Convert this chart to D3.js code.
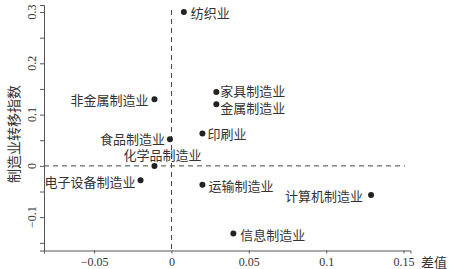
<!DOCTYPE html>
<html>
<head>
<meta charset="utf-8">
<script src="https://cdn.jsdelivr.net/npm/d3@7"></script>
<style>
  body { margin: 0; background: #fff; }
  svg { display: block; }
</style>
</head>
<body>
<div id="chart"></div>
<script>
// Scatter - 制造业转移指数 vs 差值

const industries = ["纺织业", "非金属制造业", "家具制造业", "金属制造业", "印刷业", "食品制造业",
                    "化学品制造业", "电子设备制造业", "运输制造业", "计算机制造业", "信息制造业"];
const diffValues = [0.008, -0.011, 0.029, 0.029, 0.020, -0.001, -0.011, -0.020, 0.020, 0.129, 0.040];
const shiftIndex = [0.300, 0.130, 0.144, 0.120, 0.063, 0.052, 0.000, -0.028, -0.037, -0.057, -0.132];
const xTicks = [-0.05, 0, 0.05, 0.1, 0.15];
const yTicks = [-0.15, -0.1, -0.05, 0, 0.05, 0.1, 0.15, 0.2, 0.25, 0.3];
const yLabelTicks = [-0.1, 0, 0.1, 0.2, 0.3];

// where each label sits relative to its dot
const labelPlace = {
    "纺织业": {anchor: "start", dx: 7, dy: 0},
    "非金属制造业": {anchor: "end", dx: -6, dy: 0},
    "家具制造业": {anchor: "start", dx: 4, dy: -2},
    "金属制造业": {anchor: "start", dx: 4, dy: 3},
    "印刷业": {anchor: "start", dx: 5, dy: 0},
    "食品制造业": {anchor: "end", dx: -5, dy: -1},
    "化学品制造业": {anchor: "middle", dx: 8, dy: -11},
    "电子设备制造业": {anchor: "end", dx: -5, dy: 1},
    "运输制造业": {anchor: "start", dx: 6, dy: 1},
    "计算机制造业": {anchor: "end", dx: -8, dy: 0},
    "信息制造业": {anchor: "start", dx: 7, dy: 1}
};

const width = 452;
const height = 269;

const svg = d3.select("#chart")
    .append("svg")
    .attr("width", width)
    .attr("height", height);

const xScale = d3.scaleLinear()
    .domain([-0.0824, 0.1545])
    .range([44, 410.5]);

const yScale = d3.scaleLinear()
    .domain([-0.165, 0.3137])
    .range([250.5, 5]);

const axisColor = "#555";
const serif = "'Liberation Serif', 'DejaVu Serif', serif";
const cjk = "'Noto Sans CJK SC', sans-serif";

// dashed reference lines
svg.append("line")
    .attr("x1", xScale(0)).attr("x2", xScale(0))
    .attr("y1", 10).attr("y2", yScale.range()[0])
    .attr("stroke", "#444").attr("stroke-width", 1)
    .attr("stroke-dasharray", "5,4");

svg.append("line")
    .attr("x1", xScale.range()[0]).attr("x2", 405)
    .attr("y1", yScale(0)).attr("y2", yScale(0))
    .attr("stroke", "#444").attr("stroke-width", 1)
    .attr("stroke-dasharray", "5,4");

// x axis
const xAxis = d3.axisBottom(xScale)
    .tickValues(xTicks)
    .tickSizeOuter(0)
    .tickSize(3)
    .tickPadding(4)
    .tickFormat(d => d === 0 ? "0" : d3.format("")(d));

const gx = svg.append("g")
    .attr("transform", `translate(0, ${yScale.range()[0]})`)
    .call(xAxis);
gx.select(".domain").attr("stroke", axisColor);
gx.selectAll(".tick line").attr("stroke", axisColor);
gx.selectAll(".tick text")
    .attr("fill", "#333")
    .style("font-family", serif)
    .style("font-size", "12px");

// y axis
const yAxis = d3.axisLeft(yScale)
    .tickValues(yTicks)
    .tickSizeOuter(0)
    .tickSize(4)
    .tickFormat("");

const gy = svg.append("g")
    .attr("transform", `translate(${xScale.range()[0]}, 0)`)
    .call(yAxis);
gy.select(".domain").attr("stroke", axisColor);
gy.selectAll(".tick line").attr("stroke", axisColor);

svg.append("g")
    .selectAll("text")
    .data(yLabelTicks)
    .join("text")
    .attr("transform", d => `translate(31.5, ${yScale(d)}) rotate(-90)`)
    .attr("text-anchor", "middle")
    .attr("dominant-baseline", "central")
    .attr("fill", "#333")
    .style("font-family", serif)
    .style("font-size", "12px")
    .text(d => d === 0 ? "0" : d3.format("")(d));

// axis titles
svg.append("text")
    .attr("transform", `translate(13, 134) rotate(-90)`)
    .attr("text-anchor", "middle")
    .attr("dominant-baseline", "central")
    .attr("fill", "#333")
    .style("font-family", cjk)
    .style("font-size", "14px")
    .text("制造业转移指数");

svg.append("text")
    .attr("x", 421)
    .attr("y", 261)
    .attr("dominant-baseline", "central")
    .attr("fill", "#333")
    .style("font-family", cjk)
    .style("font-size", "13px")
    .text("差值");

// points
const data = industries.map((name, i) => ({name, x: diffValues[i], y: shiftIndex[i]}));

svg.append("g")
    .selectAll("circle")
    .data(data)
    .join("circle")
    .attr("cx", d => xScale(d.x))
    .attr("cy", d => yScale(d.y))
    .attr("r", 3)
    .attr("fill", "#222");

svg.append("g")
    .selectAll("text")
    .data(data)
    .join("text")
    .attr("x", d => xScale(d.x) + labelPlace[d.name].dx)
    .attr("y", d => yScale(d.y) + labelPlace[d.name].dy)
    .attr("text-anchor", d => labelPlace[d.name].anchor)
    .attr("dominant-baseline", "central")
    .attr("fill", "#333")
    .style("font-family", cjk)
    .style("font-size", "13px")
    .text(d => d.name);
</script>
</body>
</html>
